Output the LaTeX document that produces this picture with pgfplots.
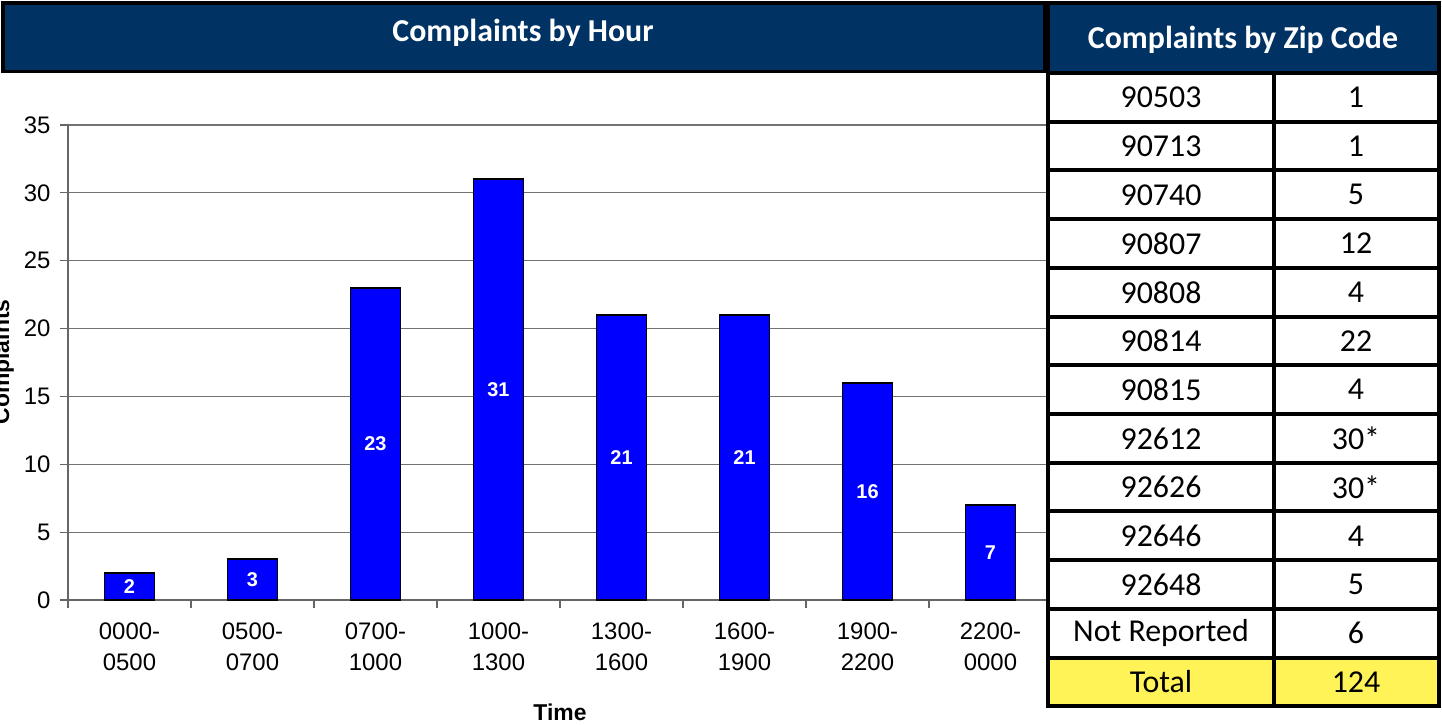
\documentclass[border=0pt]{standalone}
\usepackage{pgfplots}
\pgfplotsset{compat=1.18}
\usepackage{fontspec}
\setmainfont{Carlito}
\newfontfamily\arial{Liberation Sans}
\definecolor{navy}{RGB}{0,51,100}
\definecolor{tyellow}{RGB}{255,243,88}
\definecolor{barblue}{RGB}{0,0,255}
\begin{document}
\begin{tikzpicture}
\useasboundingbox (0,0) rectangle (1442bp,-725bp);
\begin{axis}[
  at={(68bp,-600bp)}, anchor=south west,
  scale only axis, width=984bp, height=475bp,
  xmin=-0.5, xmax=7.5, ymin=0, ymax=35,
  axis x line*=bottom, axis y line*=left,
  axis line style={-, draw=black!60, line width=1.2bp},
  ymajorgrids, grid style={draw=black!55, line width=1.2bp},
  ytick={0,5,...,35},
  xtick={0,...,7},
  xticklabels={{0000-\\0500},{0500-\\0700},{0700-\\1000},{1000-\\1300},{1300-\\1600},{1600-\\1900},{1900-\\2200},{2200-\\0000}},
  minor xtick={-0.5,0.5,...,7.5},
  major x tick style={draw=none},
  minor x tick style={draw=black!60, line width=1.2bp},
  ytick style={draw=black!60, line width=1.2bp},
  tick align=outside, major tick length=8bp, minor tick length=8bp,
  /pgf/number format/assume math mode=true,
  ticklabel style={font=\arial\fontsize{24}{31}\selectfont},
  xticklabel style={align=center, yshift=-11bp},
  yticklabel style={xshift=-6bp},
  clip=false,
]
\addplot[ybar, bar width=50bp, bar shift=0pt, fill=barblue, draw=black, line width=1.6bp]
  coordinates {(0,2) (1,3) (2,23) (3,31) (4,21) (5,21) (6,16) (7,7)};
\addplot[draw=none, mark=none, nodes near coords, nodes near coords align=center,
  point meta=explicit symbolic,
  every node near coord/.append style={text=white, font=\arial\bfseries\fontsize{20}{22}\selectfont, inner sep=0pt}]
  coordinates {(0,1)[2] (1,1.5)[3] (2,11.5)[23] (3,15.5)[31] (4,10.5)[21] (5,10.5)[21] (6,8)[16] (7,3.5)[7]};
\end{axis}
\begin{scope}[x=1bp, y=-1bp]
  % left header
  \draw[fill=navy, line width=3bp] (3,3) rectangle (1044,71);
  \node[text=white, font=\bfseries\fontsize{32}{36}\selectfont] at (523,33) {Complaints by Hour};
  % y label and x label
  \node[rotate=90, anchor=base, inner sep=0pt, font=\arial\bfseries\fontsize{23}{26}\selectfont] at (9,362) {Complaints};
  \node[font=\arial\bfseries\fontsize{23}{26}\selectfont] at (560,712) {Time};
  % right table
  \def\rh{48.72}
  \foreach \z/\v [count=\i from 0] in {90503/1,90713/1,90740/5,90807/12,90808/4,90814/22,90815/4,92612/30*,92626/30*,92646/4,92648/5,Not Reported/6}{
    \fill[white] (1048,73+\i*\rh) rectangle (1439,73+\i*\rh+\rh);
    \node[font=\fontsize{32}{36}\selectfont] at (1161,73+\i*\rh+0.5*\rh) {\z};
    \node[font=\fontsize{32}{36}\selectfont] at (1356,73+\i*\rh+0.5*\rh) {\v};
  }
  \fill[tyellow] (1048,73+12*\rh) rectangle (1439,706);
  \node[font=\fontsize{32}{36}\selectfont] at (1161,73+12.5*\rh) {Total};
  \node[font=\fontsize{32}{36}\selectfont] at (1356,73+12.5*\rh) {124};
  \foreach \i in {1,...,12} \draw[line width=4bp] (1048,73+\i*\rh) -- (1439,73+\i*\rh);
  \draw[line width=4bp] (1274,73) -- (1274,706);
  \draw[line width=4bp] (1048,73) rectangle (1439,706);
  \draw[fill=navy, line width=4bp] (1048,3) rectangle (1439,73);
  \node[text=white, font=\bfseries\fontsize{32}{36}\selectfont] at (1243,40) {Complaints by Zip Code};
\end{scope}
\end{tikzpicture}
\end{document}
